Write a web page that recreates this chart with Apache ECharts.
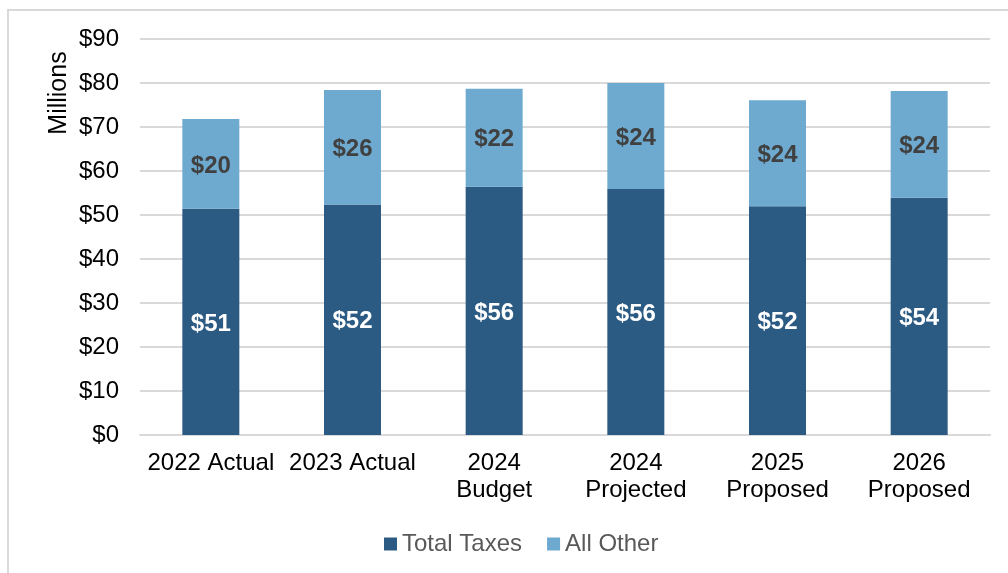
<!DOCTYPE html>
<html>
<head>
<meta charset="utf-8">
<script src="https://cdn.jsdelivr.net/npm/echarts@6/dist/echarts.min.js"></script>
<style>
  html, body { margin: 0; padding: 0; background: #fff; }
  #frame { position: absolute; left: 7px; top: 9px; width: 1010px; height: 580px; border: 2px solid #d9d9d9; box-sizing: border-box; }
  #chart { position: absolute; left: 0; top: 0; width: 1008px; height: 573px; }
</style>
</head>
<body>
<div id="frame"></div>
<div id="chart"></div>
<script>
// Revenue by year, in millions of dollars
const categories = ['2022 Actual', '2023 Actual', '2024\nBudget', '2024\nProjected', '2025\nProposed', '2026\nProposed'];
const totalTaxes = [51.4, 52.4, 56.4, 55.9, 52.0, 53.9];
const allOther = [20.4, 26.0, 22.3, 24.1, 24.1, 24.3];
const yTicks = [0, 10, 20, 30, 40, 50, 60, 70, 80, 90];

const font = '"Liberation Sans", Arial, sans-serif';
const chart = echarts.init(document.getElementById('chart'));

chart.setOption({
  animation: false,
  textStyle: { fontFamily: font },
  grid: { left: 140, right: 18, top: 39, bottom: 138, containLabel: false },
  graphic: [{
    type: 'text',
    x: 59, y: 93,
    rotation: Math.PI / 2,
    style: {
      text: 'Millions', font: '25px ' + font, fill: '#000',
      align: 'center', verticalAlign: 'middle'
    }
  }],
  legend: {
    top: 527,
    left: 379,
    itemWidth: 13,
    itemHeight: 13,
    itemGap: 25,
    icon: 'rect',
    textStyle: { fontFamily: font, fontSize: 24, color: '#595959' },
    data: ['Total Taxes', 'All Other']
  },
  xAxis: {
    type: 'category',
    data: categories,
    axisTick: { show: false },
    axisLine: { lineStyle: { color: '#d9d9d9', width: 2 } },
    axisLabel: { fontFamily: font, fontSize: 24, color: '#000', lineHeight: 27, margin: 15, interval: 0 }
  },
  yAxis: {
    type: 'value',
    min: yTicks[0],
    max: yTicks[yTicks.length - 1],
    interval: 10,
    axisLine: { show: false },
    axisTick: { show: false },
    splitLine: { lineStyle: { color: '#d9d9d9', width: 2 } },
    axisLabel: { fontFamily: font, fontSize: 24, color: '#000', margin: 21, formatter: v => '$' + v }
  },
  series: [
    {
      name: 'Total Taxes',
      type: 'bar',
      stack: 'rev',
      barWidth: 57,
      data: totalTaxes,
      itemStyle: { color: '#2b5a83' },
      label: {
        show: true, position: 'inside', offset: [0, 2], fontFamily: font, fontSize: 24, fontWeight: 'bold', color: '#fff',
        formatter: p => '$' + Math.round(p.value)
      }
    },
    {
      name: 'All Other',
      type: 'bar',
      stack: 'rev',
      barWidth: 57,
      data: allOther,
      itemStyle: { color: '#6eaad0' },
      label: {
        show: true, position: 'inside', offset: [0, 2], fontFamily: font, fontSize: 24, fontWeight: 'bold', color: '#404040',
        formatter: p => '$' + Math.round(p.value)
      }
    }
  ]
});
</script>
</body>
</html>
